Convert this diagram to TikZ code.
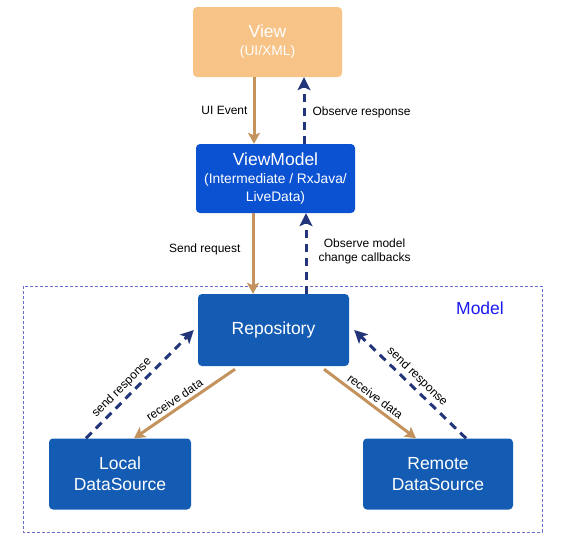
\documentclass[tikz,border=0pt]{standalone}
\usepackage{fontspec}
\setmainfont{Liberation Sans}
\usetikzlibrary{arrows.meta}
\definecolor{peach}{HTML}{F7C387}
\definecolor{vmblue}{HTML}{0B52D2}
\definecolor{repoblue}{HTML}{145CB3}
\definecolor{tan}{HTML}{C4935D}
\definecolor{navy}{HTML}{23357A}
\definecolor{modelline}{HTML}{6B6BCB}
\definecolor{modeltext}{HTML}{1A1AF0}
\newcommand{\subline}{\fontsize{13.8}{18}\selectfont}
\begin{document}
\begin{tikzpicture}[x=1pt,y=1pt]
	\tikzstyle{every node}+=[inner sep=0pt]
	\tikzstyle{box}=[rectangle, rounded corners=4pt, text=white, align=center, font=\fontsize{17.5}{18}\selectfont]
	\tikzstyle{req}=[tan, line width=3pt, -{Stealth[length=11pt,width=12pt,inset=2.5pt]}]
	\tikzstyle{resp}=[navy, line width=3pt, dash pattern=on 8pt off 6pt, -{Stealth[length=13pt,width=13pt,inset=3pt]}]
	\tikzstyle{lbl}=[text=black, font=\fontsize{12}{14}\selectfont]
	\useasboundingbox (0,0) rectangle (561,-538);
	% model frame
	\draw [modelline, line width=0.8pt, dash pattern=on 3pt off 2pt] (23,-286) rectangle (542,-532);
	\node [text=modeltext, font=\fontsize{17.5}{19}\selectfont] (model) at (480,-308) {Model};
	% boxes
	\node [box, fill=peach, minimum width=149pt, minimum height=70pt] (view) at (267.5,-42) {View\\\subline (UI/XML)};
	\node [box, fill=vmblue, minimum width=159pt, minimum height=69pt] (vm) at (275.5,-178.5) {ViewModel\\\subline (Intermediate / RxJava/\\\subline LiveData)};
	\node [box, fill=repoblue, minimum width=151pt, minimum height=72pt] (repo) at (273.5,-330) {Repository};
	\node [box, fill=repoblue, minimum width=142pt, minimum height=71pt, font=\fontsize{17.5}{21}\selectfont] (local) at (120,-474) {Local\\DataSource};
	\node [box, fill=repoblue, minimum width=150pt, minimum height=71pt, font=\fontsize{17.5}{21}\selectfont] (remote) at (438,-474) {Remote\\DataSource};
	% connectors
	\draw [req] ([xshift=-13.5pt]view.south) -- node [lbl, left=5pt] {UI Event} ([xshift=-21.5pt]vm.north);
	\draw [resp] ([xshift=28.5pt]vm.north) -- node [lbl, right=7pt, yshift=-2pt] {Observe response} ([xshift=36.5pt]view.south);
	\draw [req] ([xshift=-22.5pt]vm.south) -- node [lbl, left=11pt, yshift=4pt] {Send request} ([xshift=-20.5pt]repo.north);
	\draw [resp] ([xshift=32.5pt]repo.north) -- node [lbl, right=11pt, align=center, yshift=2pt] {Observe model\\change callbacks} ([xshift=30.5pt]vm.south);
	\draw [req] ([shift={(-38.5pt,-3pt)}]repo.south) -- node [lbl, sloped, above=3pt, pos=0.55] {receive data} ([xshift=14pt]local.north);
	\draw [resp] ([xshift=-34pt]local.north) -- node [lbl, sloped, above=3pt, pos=0.4] {send response} ([xshift=-4pt]repo.west);
	\draw [req] ([shift={(50.5pt,-3pt)}]repo.south) -- node [lbl, sloped, above=3pt, pos=0.5] {receive data} ([xshift=-22pt]remote.north);
	\draw [resp] ([xshift=28pt]remote.north) -- node [lbl, sloped, above=3pt, pos=0.5] {send response} ([xshift=5pt]repo.east);
\end{tikzpicture}
\end{document}
